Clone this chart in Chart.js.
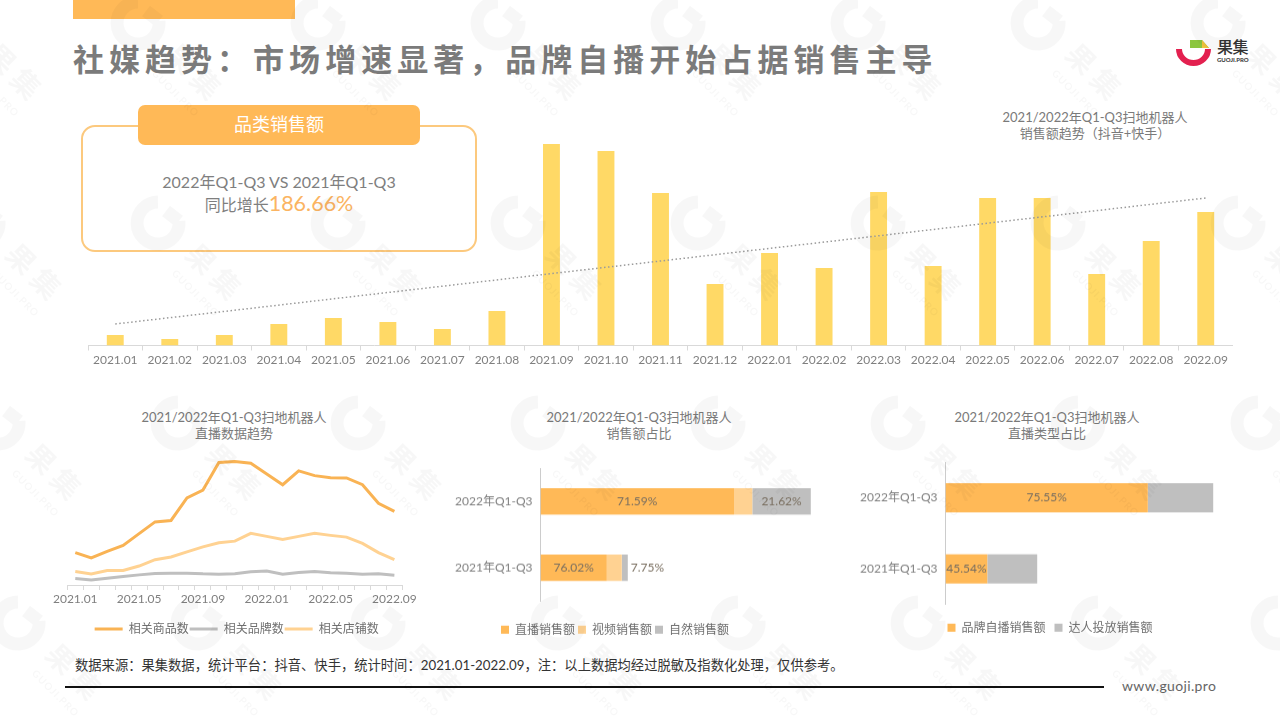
<!DOCTYPE html>
<html lang="zh">
<head>
<meta charset="utf-8">
<title>社媒趋势</title>
<script src="https://cdn.jsdelivr.net/npm/chart.js@4"></script>
<style>
  html, body { margin: 0; padding: 0; background: #fff; }
  #page { position: relative; width: 1280px; height: 720px; overflow: hidden; background: #fff;
    font-family: Lato, "Noto Sans CJK SC", sans-serif; color: #7f7f7f; }
  #page > * { position: absolute; }
  canvas { display: block; }
  .box { box-sizing: border-box; }
  .chartTitle { text-align: center; font-size: 13px; line-height: 16px; white-space: nowrap; color: #7a7a7a; }
  #topBar { left: 73px; top: 0; width: 222px; height: 19px; background: #ffb957; }
  #mainTitle { left: 73px; top: 38px; font-size: 31px; line-height: 42px; font-weight: 700; letter-spacing: 5.02px;
    white-space: nowrap; color: #7b7b7b; }
  #card { left: 81px; top: 125px; width: 396px; height: 127px; border: 2px solid #fcc97e; border-radius: 14px; }
  #pill { left: 138px; top: 105px; width: 282px; height: 40px; border-radius: 7px; background: #ffb957; color: #fff;
    font-size: 18px; line-height: 38px; text-align: center; }
  #compare { left: 81px; top: 170px; width: 396px; text-align: center; font-size: 16px; line-height: 23px; }
  #growth { left: 81px; top: 188px; width: 396px; text-align: center; font-size: 16px; line-height: 30px; white-space: nowrap; }
  #growth span { font-size: 21.5px; color: #fbb462; }
  #source { left: 75px; top: 657px; font-size: 13.3px; line-height: 17px; color: #333; white-space: nowrap; }
  #rule { left: 65px; top: 686px; width: 1039px; height: 1.5px; background: #111; }
  #site { left: 1122px; top: 677px; font-size: 14px; line-height: 18px; color: #666; letter-spacing: 0.35px; }
  #logoText { left: 1217px; top: 37px; font-size: 16px; line-height: 20px; font-weight: 500; color: #333; letter-spacing: -0.5px; white-space: nowrap; }
  #logoSub { left: 1217px; top: 56px; font-size: 6px; line-height: 8px; font-weight: 700; color: #333; white-space: nowrap; }
</style>
</head>
<body>
<div id="page">
  <div id="topBar"></div>
  <div id="mainTitle">社媒趋势&#xFF1A;市场增速显著&#xFF0C;品牌自播开始占据销售主导</div>

  <svg style="left:1172px;top:36px" width="44" height="32" viewBox="0 0 44 32">
    <path d="M7 13 A14.5 14 0 0 0 36 13" fill="none" stroke="#e3204f" stroke-width="6"/>
    <path d="M18 4 H30 L37 12 H24 L18 12 Z" fill="#8cc63f"/>
    <path d="M30 4 L37 12 H30 Z" fill="#f2c53d"/>
  </svg>
  <div id="logoText">果集</div>
  <div id="logoSub">GUOJI.PRO</div>

  <div id="card" class="box"></div>
  <div id="pill">品类销售额</div>
  <div id="compare">2022年Q1-Q3 VS 2021年Q1-Q3</div>
  <div id="growth">同比增长<span>186.66%</span></div>

  <div class="chartTitle" style="left:995px;top:109px;width:200px">2021/2022年Q1-Q3扫地机器人<br>销售额趋势&#xFF08;抖音+快手&#xFF09;</div>
  <div style="left:87.5px;top:130px;width:1145px;height:240px"><canvas id="salesChart"></canvas></div>

  <div class="chartTitle" style="left:134px;top:409px;width:200px">2021/2022年Q1-Q3扫地机器人<br>直播数据趋势</div>
  <div style="left:50px;top:450px;width:369px;height:195px"><canvas id="liveChart"></canvas></div>

  <div class="chartTitle" style="left:539px;top:409px;width:200px">2021/2022年Q1-Q3扫地机器人<br>销售额占比</div>
  <div style="left:415px;top:453.25px;width:400px;height:191.75px"><canvas id="shareChart"></canvas></div>

  <div class="chartTitle" style="left:947px;top:409px;width:200px">2021/2022年Q1-Q3扫地机器人<br>直播类型占比</div>
  <div style="left:860px;top:447.25px;width:380px;height:195.75px"><canvas id="typeChart"></canvas></div>

  <div id="source">数据来源&#xFF1A;果集数据&#xFF0C;统计平台&#xFF1A;抖音、快手&#xFF0C;统计时间&#xFF1A;2021.01-2022.09&#xFF0C;注&#xFF1A;以上数据均经过脱敏及指数化处理&#xFF0C;仅供参考。</div>
  <div id="rule"></div>
  <div id="site">www.guoji.pro</div>
  <svg id="watermark" style="left:0;top:0;pointer-events:none" width="1280" height="720"></svg>
</div>

<script>
// values, indexed
const months = ["2021.01", "2021.02", "2021.03", "2021.04", "2021.05", "2021.06", "2021.07", "2021.08", "2021.09", "2021.10", "2021.11", "2021.12",
                "2022.01", "2022.02", "2022.03", "2022.04", "2022.05", "2022.06", "2022.07", "2022.08", "2022.09"];
const salesValues = [10.5, 6.5, 10.5, 21.5, 27.5, 23.5, 16.5, 34.5, 201.5, 194.5, 152.5, 61.5, 92.5, 77.5, 153.5, 79.5, 147.5, 147.5, 71.5, 104.5, 133.5];
const salesTrend = [21.5, null, null, null, null, null, null, null, null, null, null, null, null, null, null, null, null, null, null, null, 147.5];

const goodsCount = [32, 26.7, 33.3, 39, 50.7, 62.3, 63.7, 86, 93.7, 121, 122, 120.3, 109.7, 99, 112.7, 108, 106, 105.7, 99, 80.7, 72.7];
const brandCount = [6.3, 5, 6.7, 8.3, 10, 11.3, 11.7, 11.7, 11, 10.7, 11, 13, 13.7, 10.7, 12.3, 13.3, 12, 11.7, 10.7, 11, 9.7];
const shopCount = [13.3, 11, 14.3, 14.3, 18.7, 25, 27.7, 32.7, 37.7, 41.7, 43.3, 51, 48, 45, 48, 51, 49, 47.3, 41, 32, 25];

const periods = ["2022年Q1-Q3", "2021年Q1-Q3"];
const liveSales = [193.5, 66.3];
const videoSales = [18.3, 15];
const naturalSales = [58.5, 6];
const liveSalesLabels = ["71.59%", "76.02%"];
const naturalSalesLabels = ["21.62%", "7.75%"];

const selfLive = [202.3, 41.8];
const talentLive = [65.4, 49.9];
const selfLiveLabels = ["75.55%", "45.54%"];

const ORANGE = "#ffb957";
const PALE = "#ffd292";
const GREY = "#bfbfbf";
const TEXT = "#7f7f7f";

Chart.defaults.font.family = 'Lato, "Noto Sans CJK SC", sans-serif';
Chart.defaults.color = TEXT;
Chart.defaults.animation = false;
Chart.defaults.responsive = true;
Chart.defaults.maintainAspectRatio = false;

// percent labels sit on the bars, tiny segments get theirs on the right
const barLabels = {
    id: "barLabels",
    afterDatasetsDraw(chart) {
        const ctx = chart.ctx;
        chart.data.datasets.forEach((ds, d) => {
            if (!ds.pctLabels) return;
            chart.getDatasetMeta(d).data.forEach((bar, i) => {
                ctx.save();
                ctx.font = '12px Lato, "Noto Sans CJK SC", sans-serif';
                ctx.fillStyle = "#7a6f60";
                ctx.textBaseline = "middle";
                const w = bar.x - bar.base;
                if (w < 20) {
                    ctx.textAlign = "left";
                    ctx.fillText(ds.pctLabels[i], bar.x + 3, bar.y);
                } else {
                    ctx.textAlign = "center";
                    ctx.fillText(ds.pctLabels[i], bar.base + w / 2, bar.y);
                }
                ctx.restore();
            });
        });
    }
};

function squareLegend(gap) {
    return { position: "bottom", labels: { boxWidth: 8, boxHeight: 8, padding: gap, color: "#6f6f6f", font: { size: 12 } } };
}

function hbarScales(yWidth, xMax, gap) {
    return {
        x: {
            stacked: true, min: 0, max: xMax,
            grid: { display: false }, border: { display: false }, ticks: { display: false },
            afterFit: (s) => { s.height = gap; }
        },
        y: {
            stacked: true,
            grid: { display: false, drawTicks: false },
            border: { color: "#cccccc" },
            ticks: { padding: 8, color: TEXT, font: { size: 12 } },
            afterFit: (s) => { s.width = yWidth; }
        }
    };
}

new Chart(document.getElementById("salesChart"), {
    type: "bar",
    data: {
        labels: months,
        datasets: [
            { type: "line", data: salesTrend, spanGaps: true, borderColor: "#9a9a9a", borderWidth: 1.5, borderDash: [1.5, 2.5], pointRadius: 0, order: 0 },
            { data: salesValues, backgroundColor: "#ffd966", barPercentage: 0.31, categoryPercentage: 1, order: 1 }
        ]
    },
    options: {
        plugins: { legend: { display: false }, tooltip: { enabled: false } },
        scales: {
            x: {
                grid: { offset: true, drawOnChartArea: false, color: "#d9d9d9", tickLength: 5 },
                border: { color: "#d9d9d9" },
                ticks: { autoSkip: false, maxRotation: 0, padding: 2, color: TEXT, font: { size: 12 } },
                afterFit: (s) => { s.height = 24.5; }
            },
            y: { display: false, min: 0, max: 215.5 }
        }
    }
});

new Chart(document.getElementById("liveChart"), {
    type: "line",
    data: {
        labels: months,
        datasets: [
            { label: "相关商品数", data: goodsCount, borderColor: "#f9b354", backgroundColor: "#f9b354", borderWidth: 3, pointRadius: 0 },
            { label: "相关品牌数", data: brandCount, borderColor: GREY, backgroundColor: GREY, borderWidth: 3, pointRadius: 0 },
            { label: "相关店铺数", data: shopCount, borderColor: PALE, backgroundColor: PALE, borderWidth: 3, pointRadius: 0 }
        ]
    },
    options: {
        layout: { padding: { left: 17.3, right: 13 } },
        plugins: {
            tooltip: { enabled: false },
            legend: {
                position: "bottom",
                labels: { usePointStyle: true, pointStyle: "line", pointStyleWidth: 28, padding: 1, color: "#6f6f6f", font: { size: 12 } }
            }
        },
        scales: {
            x: {
                offset: true,
                grid: { offset: true, drawOnChartArea: false, color: "#d9d9d9", tickLength: 5 },
                border: { color: "#d9d9d9" },
                ticks: {
                    autoSkip: false, maxRotation: 0, padding: 2, color: TEXT, font: { size: 12 },
                    callback(v, i) { return i % 4 === 0 ? months[i] : ""; }
                },
                afterFit: (s) => { s.height = 37; }
            },
            y: { display: false, min: 0, max: 133.3 }
        }
    }
});

new Chart(document.getElementById("shareChart"), {
    type: "bar",
    plugins: [barLabels],
    data: {
        labels: periods,
        datasets: [
            { label: "直播销售额", data: liveSales, pctLabels: liveSalesLabels, backgroundColor: ORANGE },
            { label: "视频销售额", data: videoSales, backgroundColor: PALE },
            { label: "自然销售额", data: naturalSales, pctLabels: naturalSalesLabels, backgroundColor: GREY }
        ]
    },
    options: {
        indexAxis: "y",
        datasets: { bar: { barPercentage: 0.4, categoryPercentage: 1 } },
        plugins: { legend: squareLegend(3), tooltip: { enabled: false } },
        scales: hbarScales(125.5, 274.5, 19.75)
    }
});

new Chart(document.getElementById("typeChart"), {
    type: "bar",
    plugins: [barLabels],
    data: {
        labels: periods,
        datasets: [
            { label: "品牌自播销售额", data: selfLive, pctLabels: selfLiveLabels, backgroundColor: ORANGE },
            { label: "达人投放销售额", data: talentLive, backgroundColor: GREY }
        ]
    },
    options: {
        indexAxis: "y",
        datasets: { bar: { barPercentage: 0.41, categoryPercentage: 1 } },
        plugins: { legend: squareLegend(9), tooltip: { enabled: false } },
        scales: hbarScales(85.5, 294.5, 8.25)
    }
});

// faint repeating logo laid over the whole slide
let marks = "";
for (let r = -1; r < 5; r++) {
    for (let k = -1; k < 8; k++) {
        const gx = 138 + 20 * r + 180 * k;
        const gy = 23 + 200 * r;
        marks += '<g transform="translate(' + gx + ' ' + gy + ')">' +
            '<path d="M21 -2 A21 21 0 1 1 0 -21 M21 -2 L8 -12" fill="none" stroke="rgba(0,0,0,0.03)" stroke-width="13"/>' +
            '<g transform="translate(57 51) rotate(45)" fill="rgba(0,0,0,0.03)" text-anchor="middle" font-family="Noto Sans CJK SC" font-weight="700">' +
            '<text font-size="29" y="10" letter-spacing="6">果集</text>' +
            '<text font-size="10" y="31" x="0" font-family="Lato" letter-spacing="1">GUOJI.PRO</text></g></g>';
    }
}
document.getElementById("watermark").innerHTML = marks;
</script>
</body>
</html>
